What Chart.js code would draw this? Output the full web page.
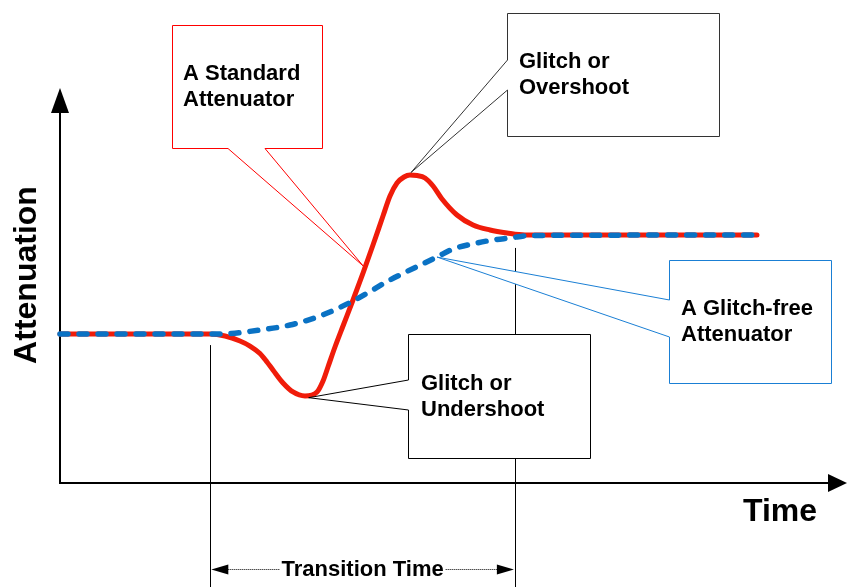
<!DOCTYPE html>
<html>
<head>
<meta charset="utf-8">
<script src="https://cdn.jsdelivr.net/npm/chart.js@4/dist/chart.umd.min.js"></script>
<style>
  body { margin: 0; background: #fff; }
  #wrap { width: 847px; height: 587px; position: relative; }
</style>
</head>
<body>
<div id="wrap"><canvas id="glitch-chart"></canvas></div>
<script>
// standard attenuator (red) - time vs attenuation, arbitrary units 0..100
const stdTime  = [0, 19.06, 20.97, 22.87, 24.14, 25.41, 26.30, 27.06, 28.34, 29.61, 31.13, 32.66, 33.42, 34.05, 34.94, 35.96,
                  37.23, 38.50, 39.77, 41.04, 41.93, 42.82, 43.71, 44.47, 45.36, 46.38, 47.40, 48.54, 50.44,
                  52.48, 54.64, 56.80, 59.09, 88.56];
const stdAtten = [37.72, 37.72, 37.22, 35.95, 34.68, 32.78, 30.63, 28.61, 25.32, 23.04, 22.03, 23.04, 25.82, 29.37, 34.43, 39.75,
                  46.33, 53.16, 60.25, 67.59, 72.66, 75.95, 77.47, 77.97, 77.85, 77.22, 75.19, 71.90, 67.85,
                  65.32, 64.05, 63.29, 62.78, 62.78];

// glitch-free attenuator (blue dashed)
const gfTime  = [0, 19.70, 21.60, 25.41, 29.22, 33.04, 37.23, 41.93, 47.90, 49.94, 52.99, 55.02, 57.18, 59.72, 88.56];
const gfAtten = [37.72, 37.72, 37.85, 38.73, 40.00, 42.28, 46.08, 51.39, 57.22, 59.24, 60.76, 61.52, 62.03, 62.66, 62.78];

// transition window
const transStart = 19.1;
const transEnd = 57.8;

const FONT = '"Liberation Sans", Arial, sans-serif';

function toXY(xs, ys) {
  return xs.map((x, i) => ({x: x, y: ys[i]}));
}

// callout box with two pointer lines going to a point on a curve
function callout(ctx, box, color, tx, ty, lines, textPos) {
  ctx.save();
  ctx.beginPath();
  ctx.moveTo(box.l, box.t);
  ctx.lineTo(box.r, box.t);
  ctx.lineTo(box.r, box.b);
  if (box.side === 'bottom') {
    ctx.lineTo(box.g2, box.b);
    ctx.lineTo(tx, ty);
    ctx.lineTo(box.g1, box.b);
    ctx.lineTo(box.l, box.b);
  } else {
    ctx.lineTo(box.l, box.b);
    ctx.lineTo(box.l, box.g2);
    ctx.lineTo(tx, ty);
    ctx.lineTo(box.l, box.g1);
  }
  ctx.closePath();
  ctx.fillStyle = '#fff';
  ctx.fill();
  ctx.strokeStyle = color;
  ctx.lineWidth = 1;
  ctx.stroke();
  ctx.fillStyle = '#000';
  ctx.font = 'bold 22px ' + FONT;
  ctx.textAlign = 'left';
  ctx.textBaseline = 'alphabetic';
  lines.forEach((s, i) => ctx.fillText(s, textPos[0], textPos[1] + i * 26));
  ctx.restore();
}

function arrowHead(ctx, x, y, dir, len, half) {
  ctx.beginPath();
  if (dir === 'up') {
    ctx.moveTo(x, y); ctx.lineTo(x - half, y + len); ctx.lineTo(x + half, y + len);
  } else if (dir === 'right') {
    ctx.moveTo(x, y); ctx.lineTo(x - len, y - half); ctx.lineTo(x - len, y + half);
  } else {
    ctx.moveTo(x, y); ctx.lineTo(x + len, y - half); ctx.lineTo(x + len, y + half);
  }
  ctx.closePath();
  ctx.fill();
}

const diagram = {
  id: 'diagram',
  beforeDatasetsDraw(chart) {
    const ctx = chart.ctx, xs = chart.scales.x, ys = chart.scales.y;
    const x0 = xs.left, y0 = ys.bottom;
    ctx.save();
    ctx.strokeStyle = '#000';
    ctx.fillStyle = '#000';
    ctx.lineWidth = 2;
    ctx.beginPath();
    ctx.moveTo(x0, ys.top + 20);
    ctx.lineTo(x0, y0);
    ctx.lineTo(xs.right - 15, y0);
    ctx.stroke();
    arrowHead(ctx, x0, ys.top, 'up', 25, 9);
    arrowHead(ctx, xs.right, y0, 'right', 19, 9);

    // transition guide lines
    ctx.lineWidth = 1;
    const a = Math.round(xs.getPixelForValue(transStart)) + 0.5;
    const b = Math.round(xs.getPixelForValue(transEnd)) + 0.5;
    ctx.beginPath();
    ctx.moveTo(a, ys.getPixelForValue(37.7) + 11);
    ctx.lineTo(a, chart.height);
    ctx.moveTo(b, ys.getPixelForValue(62.8) + 13);
    ctx.lineTo(b, chart.height);
    ctx.stroke();

    // axis titles
    ctx.font = 'bold 32px ' + FONT;
    ctx.textAlign = 'left';
    ctx.fillText('Time', 743, 521);
    ctx.translate(36, 275);
    ctx.rotate(-Math.PI / 2);
    ctx.textAlign = 'center';
    ctx.fillText('Attenuation', 0, 0);
    ctx.restore();
  },
  afterDatasetsDraw(chart) {
    const ctx = chart.ctx, xs = chart.scales.x, ys = chart.scales.y;
    const px = v => xs.getPixelForValue(v), py = v => ys.getPixelForValue(v);

    callout(ctx, {l: 172.5, t: 25.5, r: 322.5, b: 148.5, side: 'bottom', g1: 228, g2: 265},
      '#ff0000', px(38.5), py(55.0), ['A Standard', 'Attenuator'], [183, 80]);
    callout(ctx, {l: 507.5, t: 13.5, r: 719.5, b: 136.5, side: 'left', g1: 60, g2: 90},
      '#333', px(44.6), py(78.6), ['Glitch or', 'Overshoot'], [519, 68]);
    callout(ctx, {l: 408.5, t: 334.5, r: 590.5, b: 458.5, side: 'left', g1: 380, g2: 410},
      '#000', px(31.6), py(21.6), ['Glitch or', 'Undershoot'], [421, 390]);
    callout(ctx, {l: 669.5, t: 260.5, r: 831.5, b: 383.5, side: 'left', g1: 300, g2: 337},
      '#1a7fd4', px(47.9), py(57.2), ['A Glitch-free', 'Attenuator'], [681, 315]);

    // transition time dimension arrow
    const a = px(transStart), b = px(transEnd), y = 569.5;
    ctx.save();
    ctx.font = 'bold 22px ' + FONT;
    ctx.textAlign = 'center';
    ctx.textBaseline = 'alphabetic';
    const mid = (a + b) / 2;
    const w = ctx.measureText('Transition Time').width;
    ctx.strokeStyle = '#000';
    ctx.fillStyle = '#000';
    ctx.lineWidth = 1;
    ctx.setLineDash([1, 1]);
    ctx.beginPath();
    ctx.moveTo(a + 10, y); ctx.lineTo(mid - w / 2 - 2, y);
    ctx.moveTo(mid + w / 2 + 2, y); ctx.lineTo(b - 10, y);
    ctx.stroke();
    ctx.setLineDash([]);
    arrowHead(ctx, a + 1, y, 'left', 17, 5);
    arrowHead(ctx, b - 1, y, 'right', 17, 5);
    ctx.fillText('Transition Time', mid, 576);
    ctx.restore();
  }
};

new Chart(document.getElementById('glitch-chart'), {
  type: 'line',
  data: {
    datasets: [
      {
        label: 'A Glitch-free Attenuator',
        data: toXY(gfTime, gfAtten),
        borderColor: '#0a72c4',
        borderWidth: 5.5,
        borderDash: [8, 11],
        borderCapStyle: 'round',
        cubicInterpolationMode: 'monotone',
        pointRadius: 0,
        clip: false,
        order: 0
      },
      {
        label: 'A Standard Attenuator',
        data: toXY(stdTime, stdAtten),
        borderColor: '#f01c0a',
        borderWidth: 5,
        borderCapStyle: 'round',
        borderJoinStyle: 'round',
        cubicInterpolationMode: 'monotone',
        pointRadius: 0,
        clip: false,
        order: 1
      }
    ]
  },
  options: {
    responsive: true,
    maintainAspectRatio: false,
    animation: false,
    layout: { padding: { left: 60, right: 0, top: 88, bottom: 104 } },
    scales: {
      x: { type: 'linear', min: 0, max: 100, display: false },
      y: { min: 0, max: 100, display: false }
    },
    plugins: {
      legend: { display: false },
      tooltip: { enabled: false }
    }
  },
  plugins: [diagram]
});
</script>
</body>
</html>
